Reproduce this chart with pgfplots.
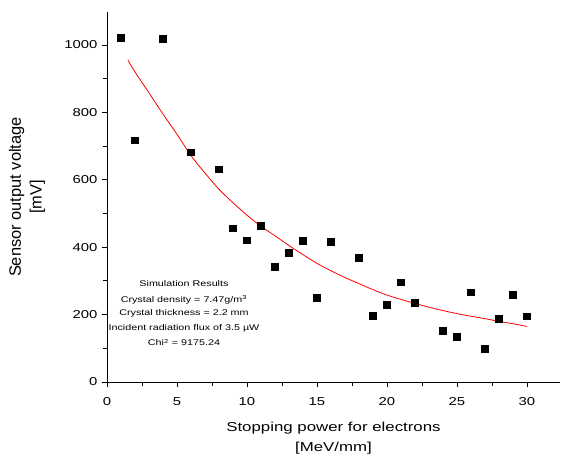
\documentclass[border=0pt]{standalone}
\usepackage{fontspec}
\setmainfont{Liberation Sans}
\usepackage{pgfplots}
\pgfplotsset{compat=1.18}

% measured points
\pgfplotstableread{
x y
1 1022
2 718
4 1019
6 682
8 631
9 457
10 421
11 464
12 342
13 384
14 419
15 250
16 416
18 368
19 197
20 230
21 296
22 236
24 153
25 134
26 267
27 99
28 187
29 259
30 195
}\measured

% fitted curve
\pgfplotstableread{
x y
1.5 955
2 920
3 858
4 795
5 735
6 672
7 620
8 572
9 532
10 495
11 462
12 434
13 405
14 378
15 352
16 330
17 310
18 292
19 274
20 258
21 245
22 233
23 222
24 212
25 203
26 195
27 188
28 180
29 173
30 165
}\fitted

\begin{document}
\begin{tikzpicture}
\path[use as bounding box] (-107bp,-74bp) rectangle (455bp,382bp);
\begin{axis}[
  scale only axis,
  width=453bp, height=370bp,
  xmin=0, xmax=32.36, ymin=0, ymax=1098,
  axis x line=bottom, axis y line=left,
  axis line style={-, line width=0.9bp},
  xtick={0,5,...,30}, ytick={0,200,...,1000},
  minor x tick num=1, minor y tick num=1,
  tick align=outside,
  major tick length=5bp, minor tick length=4bp,
  tick style={black, line width=0.9bp},
  /pgf/number format/assume math mode=true,
  /pgf/number format/1000 sep={},
  ticklabel style={font=\fontsize{11.5}{13}\selectfont, xscale=1.3},
  xticklabel style={yshift=-7bp},
  xlabel={Stopping power for electrons\\{[MeV/mm]}},
  ylabel={Sensor output voltage\\{[mV]}},
  xlabel style={font=\fontsize{13}{20}\selectfont, align=center, xscale=1.3,
    at={(axis description cs:0.5,0)}, anchor=center, yshift=-56bp},
  ylabel style={font=\fontsize{16.5}{21}\selectfont, align=center,
    at={(axis description cs:-0.1766,0.5)}, anchor=center},
]
\addplot[only marks, mark=square*, mark size=3.3bp, black] table {\measured};
\addplot[red, line width=0.8bp, smooth] table {\fitted};
\begin{scope}[every node/.style={font=\fontsize{8.3}{10}\selectfont, xscale=1.3, anchor=base}]
\node at (axis cs:5.5,282) {Simulation Results};
\node at (axis cs:5.5,235) {Crystal density = 7.47g/m\textsuperscript{3}};
\node at (axis cs:5.5,196) {Crystal thickness = 2.2 mm};
\node at (axis cs:5.5,154) {Incident radiation flux of 3.5 µW};
\node at (axis cs:5.5,107) {Chi\textsuperscript{2} = 9175.24};
\end{scope}
\end{axis}
\end{tikzpicture}
\end{document}
